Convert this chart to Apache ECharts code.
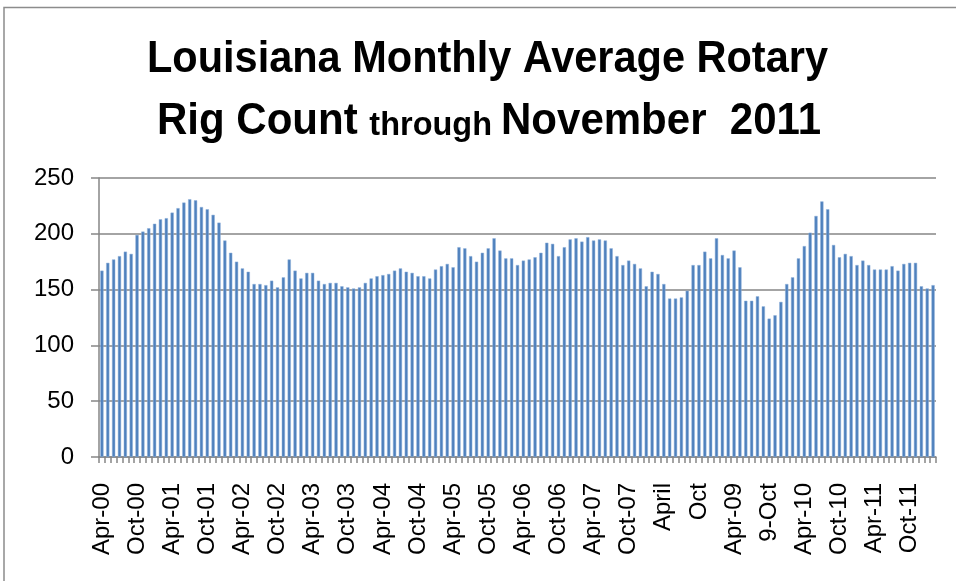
<!DOCTYPE html>
<html>
<head>
<meta charset="utf-8">
<script src="https://cdn.jsdelivr.net/npm/echarts@6/dist/echarts.min.js"></script>
<style>
html,body{margin:0;padding:0;background:#fff;}
#chart{width:956px;height:581px;}
</style>
</head>
<body>
<div id="chart"></div>
<script>
// Tick labels shown every 6th month (as in the original chart)
var tickLabels = ["Apr-00","Oct-00","Apr-01","Oct-01","Apr-02","Oct-02","Apr-03","Oct-03",
  "Apr-04","Oct-04","Apr-05","Oct-05","Apr-06","Oct-06","Apr-07","Oct-07",
  "April","Oct","Apr-09","9-Oct","Apr-10","Oct-10","Apr-11","Oct-11"];

// Monthly average rotary rig counts
var rigCounts = [
  167,174,177,180,184,182,199,202,205,209,213,214,219,223,228,231,230,224,222,217,210,194,183,175,169,166,155,155,154,158,152,161,177,167,160,165,
  165,158,155,156,156,153,152,151,152,156,160,162,163,164,167,169,166,165,162,162,160,168,171,173,170,188,187,180,175,183,187,196,185,178,178,172,
  176,177,179,183,192,191,180,188,195,196,193,197,194,195,194,187,180,172,176,173,169,153,166,164,155,142,142,143,149,172,172,184,178,196,181,178,
  185,170,140,140,144,135,124,127,139,155,161,178,189,201,216,229,222,190,179,182,180,172,176,172,168,168,168,171,167,173,174,174,153,151,154
];

var yTicks = [0, 50, 100, 150, 200, 250];

var titleLine1 = 'Louisiana Monthly Average Rotary';
var titleLine2 = ['Rig Count ', 'through ', 'November  2011'];

var categories = rigCounts.map(function (v, i) { return String(i); });

var titleFam = "'Liberation Sans',Arial,sans-serif";
var labelFont = "'Liberation Sans',Arial,sans-serif";
var bigSize = 44, smallSize = 34;

// measure text to fit the title to the original's line widths
var mctx = document.createElement('canvas').getContext('2d');
function tw(t, size) { mctx.font = 'bold ' + size + 'px ' + titleFam; return mctx.measureText(t).width; }
var w1 = tw(titleLine1, bigSize);
var w2 = tw(titleLine2[0], bigSize) + tw(titleLine2[1], smallSize) + tw(titleLine2[2], bigSize);
var sx1 = 681 / w1, sx2 = 664 / w2;

var richStyles = {
  a: {fontFamily: titleFam, fontWeight: 'bold', fontSize: bigSize, fill: '#000', lineHeight: 54},
  b: {fontFamily: titleFam, fontWeight: 'bold', fontSize: smallSize, fill: '#000', lineHeight: 54, padding: [7, 0, 0, 0]}
};

var chart = echarts.init(document.getElementById('chart'), null, {renderer: 'canvas'});

chart.setOption({
  animation: false,
  backgroundColor: '#ffffff',
  graphic: [{
    type: 'rect',
    shape: {x: 4, y: 7.5, width: 1200, height: 1200},
    style: {fill: 'none', stroke: '#8c8c8c', lineWidth: 1.5},
    silent: true
  }, {
    type: 'text',
    x: 487.5, y: 60, scaleX: sx1,
    style: {text: '{a|' + titleLine1 + '}', rich: richStyles, align: 'center', verticalAlign: 'middle'},
    silent: true
  }, {
    type: 'text',
    x: 489, y: 122, scaleX: sx2,
    style: {text: '{a|' + titleLine2[0] + '}{b|' + titleLine2[1] + '}{a|' + titleLine2[2] + '}', rich: richStyles, align: 'center', verticalAlign: 'middle'},
    silent: true
  }],
  grid: {left: 99, right: 20, top: 178, bottom: 124, containLabel: false},
  xAxis: {
    type: 'category',
    data: categories,
    boundaryGap: true,
    axisLine: {show: true, lineStyle: {color: '#868686', width: 1.5}},
    axisTick: {show: true, interval: 0, alignWithLabel: false, length: 6, lineStyle: {color: '#868686', width: 1.5}},
    axisLabel: {
      interval: 5,
      rotate: 90,
      margin: 26,
      fontFamily: labelFont,
      fontSize: 24,
      color: '#000',
      formatter: function (value, index) {
        return index % 6 === 0 ? tickLabels[index / 6] : '';
      }
    },
    splitLine: {show: false}
  },
  yAxis: {
    type: 'value',
    min: yTicks[0],
    max: yTicks[yTicks.length - 1],
    interval: 50,
    axisLine: {show: true, lineStyle: {color: '#868686', width: 1.5}},
    axisTick: {show: true, length: 8, lineStyle: {color: '#868686', width: 1.5}},
    axisLabel: {margin: 25, fontFamily: labelFont, fontSize: 24, color: '#000'},
    splitLine: {show: true, lineStyle: {color: '#868686', width: 1.5}}
  },
  series: [{
    type: 'bar',
    data: rigCounts,
    barCategoryGap: '45%',
    itemStyle: {color: '#4F81BD', borderColor: '#8FB0DA', borderWidth: 0.5}
  }]
});
</script>
</body>
</html>
